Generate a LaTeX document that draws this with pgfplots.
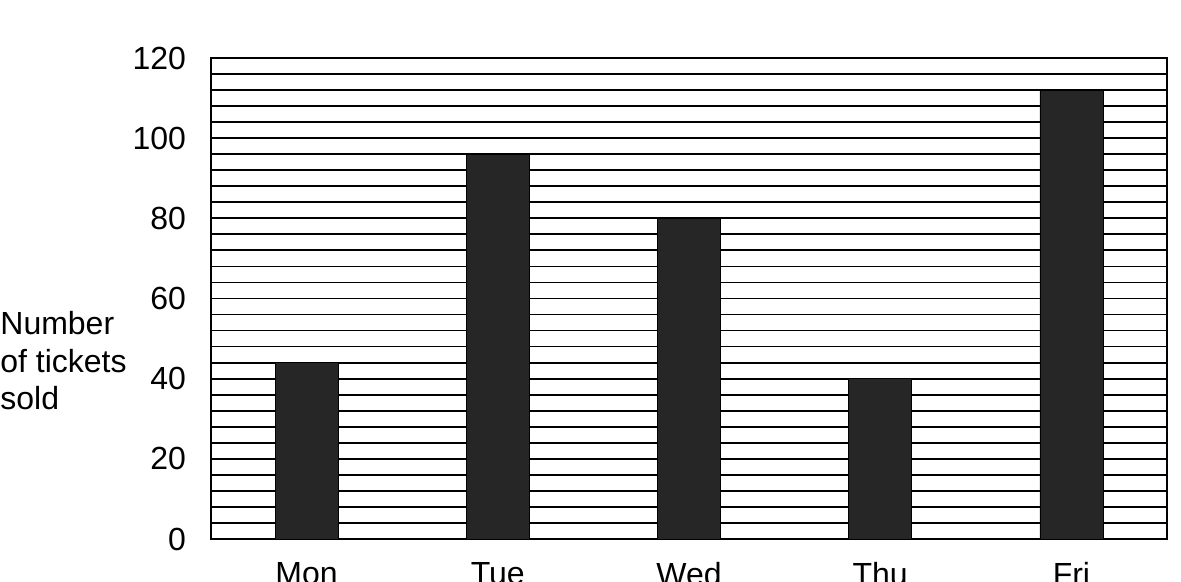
\documentclass[border=0pt]{standalone}
\usepackage{fontspec}
\setmainfont{Liberation Sans}
\usepackage{pgfplots}
\pgfplotsset{compat=1.18}
\begin{document}
\begin{tikzpicture}
\begin{axis}[
  at={(105.5pt,21.5pt)}, anchor=south west,
  scale only axis, width=478pt, height=240.5pt,
  xmin=-0.5, xmax=4.5, ymin=0, ymax=120,
  xtick={0,1,2,3,4}, xticklabels={Mon,Tue,Wed,Thu,Fri},
  ytick={0,20,...,120}, minor y tick num=4,
  major tick length=0pt, minor tick length=0pt,
  ymajorgrids, yminorgrids,
  grid style={black, line width=0.9pt},
  major grid style={black, line width=0.9pt},
  minor grid style={black, line width=0.9pt},
  axis line style={black, line width=1.2pt},
  tick label style={font=\fontsize{16}{19}\selectfont},
  /pgf/number format/assume math mode=true,
  yticklabel style={xshift=-9pt},
  xticklabel style={yshift=-8pt},
  ybar, bar width=31.5pt,
]
\addplot[fill=black!85, draw=black] coordinates {(0,44) (1,96) (2,80) (3,40) (4,112)};
\end{axis}
\node[anchor=base west, inner sep=0pt, font=\fontsize{16}{19}\selectfont] at (0pt,123.5pt) {Number};
\node[anchor=base west, inner sep=0pt, font=\fontsize{16}{19}\selectfont] at (0pt,104.75pt) {of tickets};
\node[anchor=base west, inner sep=0pt, font=\fontsize{16}{19}\selectfont] at (0pt,86pt) {sold};
\pgfresetboundingbox
\useasboundingbox (0pt,0pt) rectangle (590.5pt,291pt);
\end{tikzpicture}
\end{document}
